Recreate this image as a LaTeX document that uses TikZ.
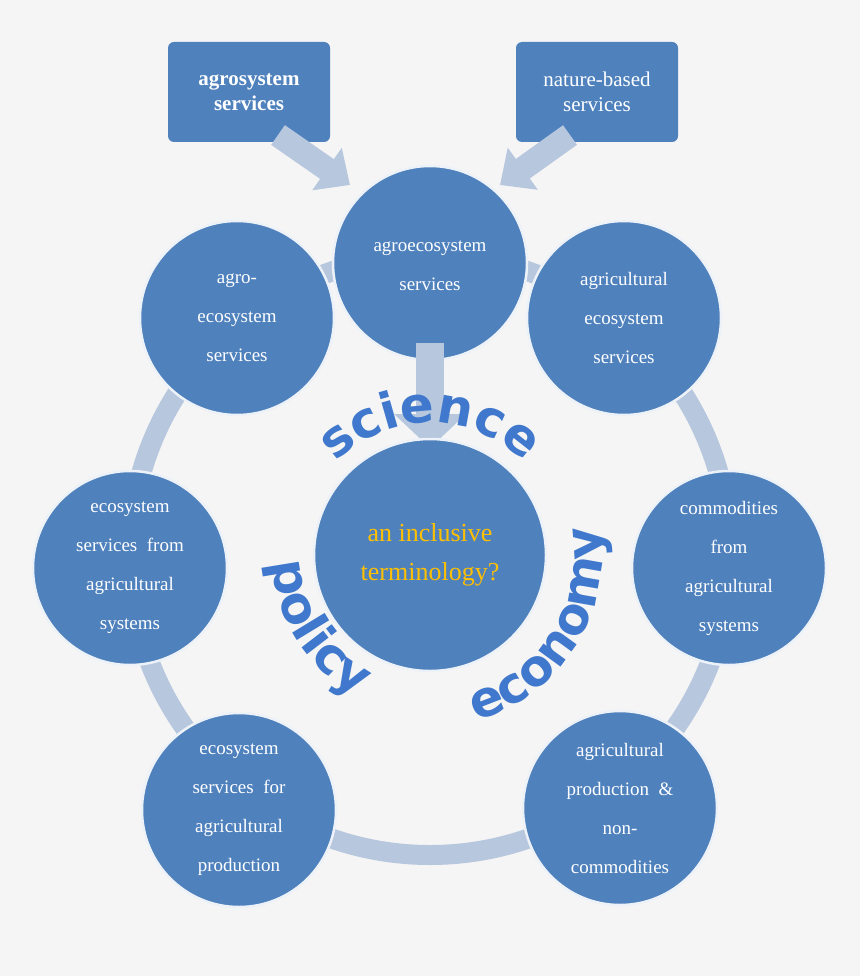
\documentclass[tikz,border=0pt]{standalone}
\usepackage{fontspec}
\setmainfont{Liberation Serif}
\newfontfamily\wafont{DejaVu Sans}
\usetikzlibrary{arrows.meta,decorations.text,calc}
\definecolor{cblue}{HTML}{4F81BD}
\definecolor{ring}{HTML}{B7C7DE}
\definecolor{gold}{HTML}{FFC000}
\definecolor{wa}{HTML}{3F78CC}
\tikzset{
 circ/.style={circle,fill=cblue,draw=white!90!cblue,line width=2.5pt,minimum size=#1,inner sep=0pt,text=white,align=center,font=\fontsize{19}{39}\selectfont},
 box/.style={rounded corners=6pt,fill=cblue,minimum width=162pt,minimum height=100pt,text=white,align=center,font=\fontsize{21}{25}\selectfont},
 barrow/.style={draw=ring,line width=24pt,-{Triangle[length=28pt,width=50pt]}},
 wword/.style={decorate,decoration={text along path,text align=center,text={|\wafont\bfseries\fontsize{50}{50}\selectfont\color{wa}|#1}}}
}
\begin{document}
\begin{tikzpicture}[x=1pt,y=1pt]
\useasboundingbox (0,0) rectangle (860,-976);
\fill[white!96!black] (0,0) rectangle (860,-976);
\coordinate (O) at (430,-555);
\draw[ring,line width=20pt] (O) circle (300);
\node[box] (b1) at (249,-92) {\textbf{agrosystem}\\\textbf{services}};
\node[box] (b2) at (597,-92) {nature-based\\services};
\coordinate (a1s) at (278,-135); \coordinate (a1e) at (350,-185);
\coordinate (a2s) at (570,-135); \coordinate (a2e) at (500,-185);
\draw[barrow] (a1s) -- (a1e);
\draw[barrow] (a2s) -- (a2e);
\node[circ=194pt] (lt) at (237,-318) {agro-\\ecosystem\\services};
\node[circ=194pt] (rt) at (624,-318) {agricultural\\ecosystem\\services};
\node[circ=194pt] (lm) at (130,-568) {ecosystem\\services~ from\\agricultural\\systems};
\node[circ=194pt] (rm) at (729,-568) {commodities\\from\\agricultural\\systems};
\node[circ=194pt] (lb) at (239,-810) {ecosystem\\services~ for\\agricultural\\production};
\node[circ=194pt] (rb) at (620,-808) {agricultural\\production~ \&\\non-\\commodities};
\node[circ=194pt] (top) at (430,-263) {};
\node[text=white,align=center,font=\fontsize{19}{39}\selectfont] (toptext) at (430,-266) {agroecosystem\\services};
\draw[draw=ring,line width=28pt,-{Triangle[length=34pt,width=70pt]}] (top.center) ++(0,-80) coordinate (d1) -- ++(0,-105) coordinate (d2);
\node[circ=232pt] (c) at (O) {\color{gold}\fontsize{26}{52}\selectfont an inclusive\\\color{gold}\fontsize{26}{52}\selectfont terminology?};
\path[wword={science}] ($(O)+(140:132)$) arc (140:40:132);
\path[wword={policy}] ($(O)+(178:158)$) arc (178:248:158);
\path[wword={economy}] ($(O)+(285:172)$) arc (285:370:172);
\end{tikzpicture}
\end{document}
